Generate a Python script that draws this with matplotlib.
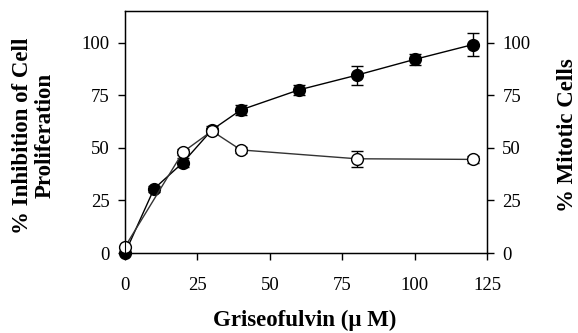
import numpy as np
import matplotlib
matplotlib.use('Agg')
import matplotlib.pyplot as plt

plt.rcParams['font.family'] = ['Liberation Serif', 'DejaVu Serif']

# griseofulvin concentration (uM)
conc_inhib = [0, 10, 20, 30, 40, 60, 80, 100, 120]
inhib = [0, 30.5, 43, 58.5, 68, 77.5, 84.5, 92, 99]
inhib_err = [0, 1.5, 2, 2, 2.5, 2.5, 4.5, 2.5, 5.5]

conc_mito = [0, 20, 30, 40, 80, 120]
mitotic = [3, 48, 58, 49, 44.8, 44.5]
mitotic_err = [0.5, 1.5, 1.5, 1.5, 3.8, 1.5]

xticks = [0, 25, 50, 75, 100, 125]
yticks = [0, 25, 50, 75, 100]

fig = plt.figure(figsize=(5.78, 3.33), dpi=100)
ax = fig.add_axes([0.2163, 0.240, 0.6263, 0.727])

ax.errorbar(conc_inhib, inhib, yerr=inhib_err, fmt='-o', color='black',
            mfc='black', mec='black', ms=8.5, lw=1.0, capsize=4,
            elinewidth=1.0, clip_on=False, zorder=3)
ax.errorbar(conc_mito, mitotic, yerr=mitotic_err, fmt='-o', color='#333333',
            mfc='white', mec='black', ms=8.5, lw=1.0, capsize=4,
            ecolor='black', elinewidth=1.0, clip_on=False, zorder=4)

ax.set_xlim(0, 125)
ax.set_ylim(0, 115)
ax.set_xticks(xticks)
ax.set_yticks(yticks)
ax.tick_params(direction='out', length=5, width=1, labelsize=13.5, pad=6)
ax.tick_params(axis='x', pad=12)
for s in ax.spines.values():
    s.set_linewidth(1.0)

ax2 = ax.twinx()
ax2.set_ylim(0, 115)
ax2.set_yticks(yticks)
ax2.tick_params(direction='out', length=5, width=1, labelsize=13.5, pad=6)

# axis titles placed to match the reference
fig.text(0.528, 0.039, 'Griseofulvin (\u03bc M)', fontsize=16.5,
         fontweight='bold', ha='center', va='center')
fig.text(0.058, 0.592, '% Inhibition of Cell\nProliferation', fontsize=16.5,
         fontweight='bold', ha='center', va='center', rotation=90,
         multialignment='center', linespacing=1.1)
fig.text(0.981, 0.595, '% Mitotic Cells', fontsize=16.5,
         fontweight='bold', ha='center', va='center', rotation=90)

fig.savefig('out.png', dpi=100)
